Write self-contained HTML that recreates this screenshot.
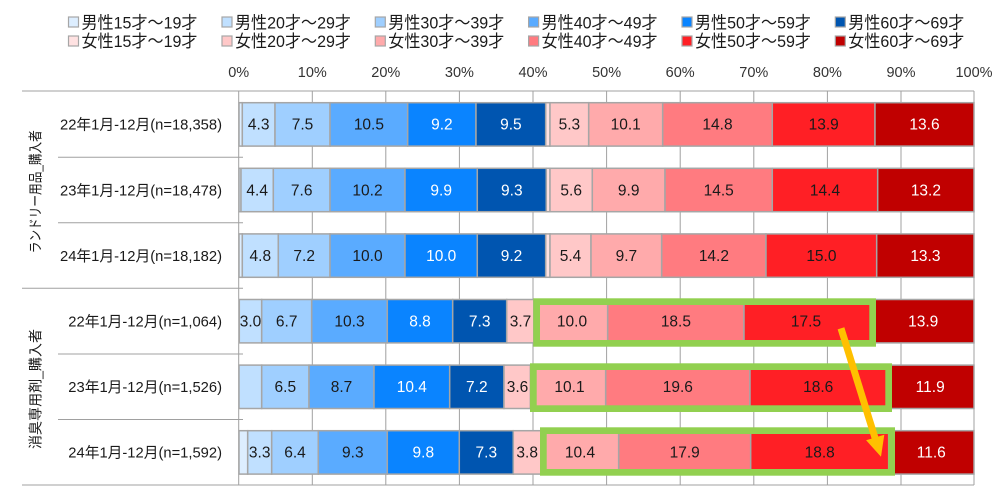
<!DOCTYPE html>
<html><head><meta charset="utf-8">
<style>
html,body{margin:0;padding:0;background:#fff;}
svg{display:block;font-family:"Liberation Sans","Noto Sans CJK JP",sans-serif;}
</style></head>
<body>
<svg width="1000" height="497" viewBox="0 0 1000 497" xmlns="http://www.w3.org/2000/svg">
<rect width="1000" height="497" fill="#fff"/>
<!-- legend -->
<g font-size="17" fill="#1a1a1a" stroke="none">
  <rect x="68.5" y="17" width="10" height="10" fill="#ddeeff" stroke="#a6a6a6" stroke-width="1.2"/>
  <text x="81.5" y="28.5" textLength="116" lengthAdjust="spacingAndGlyphs">男性15才～19才</text>
  <rect x="222" y="17" width="10" height="10" fill="#c0e0ff" stroke="#a6a6a6" stroke-width="1.2"/>
  <text x="235" y="28.5" textLength="116" lengthAdjust="spacingAndGlyphs">男性20才～29才</text>
  <rect x="375.3" y="17" width="10" height="10" fill="#9fcfff" stroke="#a6a6a6" stroke-width="1.2"/>
  <text x="388.3" y="28.5" textLength="116" lengthAdjust="spacingAndGlyphs">男性30才～39才</text>
  <rect x="528.6" y="17" width="10" height="10" fill="#5aabff" stroke="#a6a6a6" stroke-width="1.2"/>
  <text x="541.6" y="28.5" textLength="116" lengthAdjust="spacingAndGlyphs">男性40才～49才</text>
  <rect x="682" y="17" width="10" height="10" fill="#0a84ff" stroke="#a6a6a6" stroke-width="1.2"/>
  <text x="695" y="28.5" textLength="116" lengthAdjust="spacingAndGlyphs">男性50才～59才</text>
  <rect x="835.3" y="17" width="10" height="10" fill="#0055b0" stroke="#a6a6a6" stroke-width="1.2"/>
  <text x="848.3" y="28.5" textLength="116" lengthAdjust="spacingAndGlyphs">男性60才～69才</text>

  <rect x="68.5" y="36" width="10" height="10" fill="#ffe2e2" stroke="#a6a6a6" stroke-width="1.2"/>
  <text x="81.5" y="47" textLength="116" lengthAdjust="spacingAndGlyphs">女性15才～19才</text>
  <rect x="222" y="36" width="10" height="10" fill="#ffc8c8" stroke="#a6a6a6" stroke-width="1.2"/>
  <text x="235" y="47" textLength="116" lengthAdjust="spacingAndGlyphs">女性20才～29才</text>
  <rect x="375.3" y="36" width="10" height="10" fill="#ffaaab" stroke="#a6a6a6" stroke-width="1.2"/>
  <text x="388.3" y="47" textLength="116" lengthAdjust="spacingAndGlyphs">女性30才～39才</text>
  <rect x="528.6" y="36" width="10" height="10" fill="#ff7b80" stroke="#a6a6a6" stroke-width="1.2"/>
  <text x="541.6" y="47" textLength="116" lengthAdjust="spacingAndGlyphs">女性40才～49才</text>
  <rect x="682" y="36" width="10" height="10" fill="#ff1f25" stroke="#a6a6a6" stroke-width="1.2"/>
  <text x="695" y="47" textLength="116" lengthAdjust="spacingAndGlyphs">女性50才～59才</text>
  <rect x="835.3" y="36" width="10" height="10" fill="#c00000" stroke="#a6a6a6" stroke-width="1.2"/>
  <text x="848.3" y="47" textLength="116" lengthAdjust="spacingAndGlyphs">女性60才～69才</text>
</g>

<!-- axis labels -->
<g font-size="14.5" fill="#333" text-anchor="middle">
  <text x="238.7" y="77">0%</text>
  <text x="312.3" y="77">10%</text>
  <text x="385.8" y="77">20%</text>
  <text x="459.4" y="77">30%</text>
  <text x="533" y="77">40%</text>
  <text x="606.6" y="77">50%</text>
  <text x="680.2" y="77">60%</text>
  <text x="753.8" y="77">70%</text>
  <text x="827.4" y="77">80%</text>
  <text x="901" y="77">90%</text>
  <text x="974" y="77">100%</text>
</g>

<!-- grid -->
<g stroke="#a0a0a0" stroke-width="1" fill="none">
  <line x1="312.3" y1="91" x2="312.3" y2="485"/>
  <line x1="385.8" y1="91" x2="385.8" y2="485"/>
  <line x1="459.4" y1="91" x2="459.4" y2="485"/>
  <line x1="533" y1="91" x2="533" y2="485"/>
  <line x1="606.6" y1="91" x2="606.6" y2="485"/>
  <line x1="680.2" y1="91" x2="680.2" y2="485"/>
  <line x1="753.8" y1="91" x2="753.8" y2="485"/>
  <line x1="827.4" y1="91" x2="827.4" y2="485"/>
  <line x1="901" y1="91" x2="901" y2="485"/>
  <line x1="974" y1="91" x2="974" y2="485"/>
  <line x1="238.7" y1="91" x2="238.7" y2="485"/>
  <line x1="22" y1="91" x2="974" y2="91"/>
  <line x1="22" y1="485" x2="974" y2="485"/>
  <line x1="22" y1="288.3" x2="243" y2="288.3"/>
  <line x1="58" y1="157.3" x2="243" y2="157.3"/>
  <line x1="58" y1="222.7" x2="243" y2="222.7"/>
  <line x1="58" y1="354" x2="243" y2="354"/>
  <line x1="58" y1="419.5" x2="243" y2="419.5"/>
</g>

<!-- group labels -->
<g font-size="14" fill="#1a1a1a" text-anchor="middle">
  <text transform="translate(40.5,191.7) rotate(-90)" textLength="123" lengthAdjust="spacingAndGlyphs">ランドリー用品_購入者</text>
  <text transform="translate(40.5,389) rotate(-90)" textLength="120" lengthAdjust="spacingAndGlyphs">消臭専用剤_購入者</text>
</g>

<!-- row labels -->
<g font-size="15" fill="#1a1a1a">
  <text x="60" y="129.7" textLength="162" lengthAdjust="spacingAndGlyphs">22年1月-12月(n=18,358)</text>
  <text x="60" y="195.3" textLength="162" lengthAdjust="spacingAndGlyphs">23年1月-12月(n=18,478)</text>
  <text x="60" y="260.9" textLength="162" lengthAdjust="spacingAndGlyphs">24年1月-12月(n=18,182)</text>
  <text x="68.3" y="326.5" textLength="153.7" lengthAdjust="spacingAndGlyphs">22年1月-12月(n=1,064)</text>
  <text x="68.3" y="392.1" textLength="153.7" lengthAdjust="spacingAndGlyphs">23年1月-12月(n=1,526)</text>
  <text x="68.3" y="457.7" textLength="153.7" lengthAdjust="spacingAndGlyphs">24年1月-12月(n=1,592)</text>
</g>

<!-- bars -->
<g stroke="#a6a6a6" stroke-width="1.5">
  <!-- row1 -->
  <rect x="239" y="102.7" width="3.3" height="43.4" fill="#ddeeff"/>
  <rect x="242.3" y="102.7" width="32.7" height="43.4" fill="#c0e0ff"/>
  <rect x="275" y="102.7" width="55" height="43.4" fill="#9fcfff"/>
  <rect x="330" y="102.7" width="77.7" height="43.4" fill="#5aabff"/>
  <rect x="407.7" y="102.7" width="68.3" height="43.4" fill="#0a84ff"/>
  <rect x="476" y="102.7" width="69.7" height="43.4" fill="#0055b0"/>
  <rect x="545.7" y="102.7" width="4.3" height="43.4" fill="#ffe2e2"/>
  <rect x="550" y="102.7" width="38.7" height="43.4" fill="#ffc8c8"/>
  <rect x="588.7" y="102.7" width="74" height="43.4" fill="#ffaaab"/>
  <rect x="662.7" y="102.7" width="109.6" height="43.4" fill="#ff7b80"/>
  <rect x="772.3" y="102.7" width="102.7" height="43.4" fill="#ff1f25"/>
  <rect x="875" y="102.7" width="99" height="43.4" fill="#c00000"/>
  <!-- row2 -->
  <rect x="239" y="168.3" width="2" height="43.4" fill="#ddeeff"/>
  <rect x="241" y="168.3" width="32.3" height="43.4" fill="#c0e0ff"/>
  <rect x="273.3" y="168.3" width="56.7" height="43.4" fill="#9fcfff"/>
  <rect x="330" y="168.3" width="75" height="43.4" fill="#5aabff"/>
  <rect x="405" y="168.3" width="72.3" height="43.4" fill="#0a84ff"/>
  <rect x="477.3" y="168.3" width="69" height="43.4" fill="#0055b0"/>
  <rect x="546.3" y="168.3" width="3.7" height="43.4" fill="#ffe2e2"/>
  <rect x="550" y="168.3" width="42.3" height="43.4" fill="#ffc8c8"/>
  <rect x="592.3" y="168.3" width="72.7" height="43.4" fill="#ffaaab"/>
  <rect x="665" y="168.3" width="107.3" height="43.4" fill="#ff7b80"/>
  <rect x="772.3" y="168.3" width="105.4" height="43.4" fill="#ff1f25"/>
  <rect x="877.7" y="168.3" width="96.3" height="43.4" fill="#c00000"/>
  <!-- row3 -->
  <rect x="239" y="233.9" width="3.3" height="43.4" fill="#ddeeff"/>
  <rect x="242.3" y="233.9" width="36" height="43.4" fill="#c0e0ff"/>
  <rect x="278.3" y="233.9" width="51.7" height="43.4" fill="#9fcfff"/>
  <rect x="330" y="233.9" width="75" height="43.4" fill="#5aabff"/>
  <rect x="405" y="233.9" width="72.3" height="43.4" fill="#0a84ff"/>
  <rect x="477.3" y="233.9" width="68.4" height="43.4" fill="#0055b0"/>
  <rect x="545.7" y="233.9" width="4.3" height="43.4" fill="#ffe2e2"/>
  <rect x="550" y="233.9" width="41" height="43.4" fill="#ffc8c8"/>
  <rect x="591" y="233.9" width="70.7" height="43.4" fill="#ffaaab"/>
  <rect x="661.7" y="233.9" width="104.3" height="43.4" fill="#ff7b80"/>
  <rect x="766" y="233.9" width="110.7" height="43.4" fill="#ff1f25"/>
  <rect x="876.7" y="233.9" width="97.3" height="43.4" fill="#c00000"/>
  <!-- row4 -->
  <rect x="239.3" y="299.5" width="22.4" height="43.4" fill="#c0e0ff"/>
  <rect x="261.7" y="299.5" width="50" height="43.4" fill="#9fcfff"/>
  <rect x="311.7" y="299.5" width="75.6" height="43.4" fill="#5aabff"/>
  <rect x="387.3" y="299.5" width="65.4" height="43.4" fill="#0a84ff"/>
  <rect x="452.7" y="299.5" width="54" height="43.4" fill="#0055b0"/>
  <rect x="506.7" y="299.5" width="27.2" height="43.4" fill="#ffc8c8"/>
  <rect x="533.9" y="299.5" width="73.8" height="43.4" fill="#ffaaab"/>
  <rect x="607.7" y="299.5" width="136.3" height="43.4" fill="#ff7b80"/>
  <rect x="744" y="299.5" width="128.5" height="43.4" fill="#ff1f25"/>
  <rect x="872.5" y="299.5" width="101.5" height="43.4" fill="#c00000"/>
  <!-- row5 -->
  <rect x="239" y="365.1" width="22.7" height="43.4" fill="#c0e0ff"/>
  <rect x="261.7" y="365.1" width="47.3" height="43.4" fill="#9fcfff"/>
  <rect x="309" y="365.1" width="65" height="43.4" fill="#5aabff"/>
  <rect x="374" y="365.1" width="75.7" height="43.4" fill="#0a84ff"/>
  <rect x="449.7" y="365.1" width="54.3" height="43.4" fill="#0055b0"/>
  <rect x="504" y="365.1" width="26.5" height="43.4" fill="#ffc8c8"/>
  <rect x="530.5" y="365.1" width="75.2" height="43.4" fill="#ffaaab"/>
  <rect x="605.7" y="365.1" width="144.3" height="43.4" fill="#ff7b80"/>
  <rect x="750" y="365.1" width="136.5" height="43.4" fill="#ff1f25"/>
  <rect x="886.5" y="365.1" width="87.5" height="43.4" fill="#c00000"/>
  <!-- row6 -->
  <rect x="239" y="430.7" width="8.7" height="43.4" fill="#ddeeff"/>
  <rect x="247.7" y="430.7" width="24" height="43.4" fill="#c0e0ff"/>
  <rect x="271.7" y="430.7" width="46.6" height="43.4" fill="#9fcfff"/>
  <rect x="318.3" y="430.7" width="69" height="43.4" fill="#5aabff"/>
  <rect x="387.3" y="430.7" width="72" height="43.4" fill="#0a84ff"/>
  <rect x="459.3" y="430.7" width="54" height="43.4" fill="#0055b0"/>
  <rect x="513.3" y="430.7" width="27.9" height="43.4" fill="#ffc8c8"/>
  <rect x="541.2" y="430.7" width="77.5" height="43.4" fill="#ffaaab"/>
  <rect x="618.7" y="430.7" width="132" height="43.4" fill="#ff7b80"/>
  <rect x="750.7" y="430.7" width="138" height="43.4" fill="#ff1f25"/>
  <rect x="888.7" y="430.7" width="85.3" height="43.4" fill="#c00000"/>
</g>

<!-- data labels -->
<g font-size="15.5" text-anchor="middle" fill="#1a1a1a">
  <text x="258.7" y="129.7">4.3</text>
  <text x="302.5" y="129.7">7.5</text>
  <text x="368.9" y="129.7">10.5</text>
  <text x="441.9" y="129.7" fill="#fff">9.2</text>
  <text x="510.9" y="129.7" fill="#fff">9.5</text>
  <text x="569.4" y="129.7">5.3</text>
  <text x="625.7" y="129.7">10.1</text>
  <text x="717.5" y="129.7">14.8</text>
  <text x="823.7" y="129.7">13.9</text>
  <text x="924.5" y="129.7" fill="#fff">13.6</text>

  <text x="257.2" y="195.3">4.4</text>
  <text x="301.7" y="195.3">7.6</text>
  <text x="367.5" y="195.3">10.2</text>
  <text x="441.2" y="195.3" fill="#fff">9.9</text>
  <text x="511.8" y="195.3" fill="#fff">9.3</text>
  <text x="571.2" y="195.3">5.6</text>
  <text x="628.7" y="195.3">9.9</text>
  <text x="718.7" y="195.3">14.5</text>
  <text x="825" y="195.3">14.4</text>
  <text x="925.9" y="195.3" fill="#fff">13.2</text>

  <text x="260.3" y="260.9">4.8</text>
  <text x="304.2" y="260.9">7.2</text>
  <text x="367.5" y="260.9">10.0</text>
  <text x="441.2" y="260.9" fill="#fff">10.0</text>
  <text x="511.5" y="260.9" fill="#fff">9.2</text>
  <text x="570.5" y="260.9">5.4</text>
  <text x="626.4" y="260.9">9.7</text>
  <text x="713.9" y="260.9">14.2</text>
  <text x="821.4" y="260.9">15.0</text>
  <text x="925.4" y="260.9" fill="#fff">13.3</text>

  <text x="250.5" y="326.5">3.0</text>
  <text x="286.7" y="326.5">6.7</text>
  <text x="349.5" y="326.5">10.3</text>
  <text x="420" y="326.5" fill="#fff">8.8</text>
  <text x="479.7" y="326.5" fill="#fff">7.3</text>
  <text x="520.5" y="326.5">3.7</text>
  <text x="572" y="326.5">10.0</text>
  <text x="675.9" y="326.5">18.5</text>
  <text x="806" y="326.5">17.5</text>
  <text x="923.2" y="326.5" fill="#fff">13.9</text>

  <text x="285.3" y="392.1">6.5</text>
  <text x="341.5" y="392.1">8.7</text>
  <text x="411.8" y="392.1" fill="#fff">10.4</text>
  <text x="476.8" y="392.1" fill="#fff">7.2</text>
  <text x="517.5" y="392.1">3.6</text>
  <text x="569.5" y="392.1">10.1</text>
  <text x="677.8" y="392.1">19.6</text>
  <text x="818.2" y="392.1">18.6</text>
  <text x="930.2" y="392.1" fill="#fff">11.9</text>

  <text x="259.7" y="457.7">3.3</text>
  <text x="295" y="457.7">6.4</text>
  <text x="352.8" y="457.7">9.3</text>
  <text x="423.3" y="457.7" fill="#fff">9.8</text>
  <text x="486.3" y="457.7" fill="#fff">7.3</text>
  <text x="527.2" y="457.7">3.8</text>
  <text x="580" y="457.7">10.4</text>
  <text x="684.7" y="457.7">17.9</text>
  <text x="819.7" y="457.7">18.8</text>
  <text x="931.3" y="457.7" fill="#fff">11.6</text>
</g>

<!-- green highlight boxes -->
<g fill="none" stroke="#92d050" stroke-width="6.7">
  <rect x="536.65" y="301.65" width="336" height="41.7"/>
  <rect x="533.35" y="366.65" width="355.3" height="42"/>
  <rect x="543.35" y="430.65" width="348.3" height="41.7"/>
</g>

<!-- arrow -->
<line x1="841" y1="328.3" x2="876" y2="441" stroke="#ffc000" stroke-width="7"/>
<polygon points="866.1,440.2 884.3,434.8 881,456.7" fill="#ffc000"/>
</svg>
</body></html>
